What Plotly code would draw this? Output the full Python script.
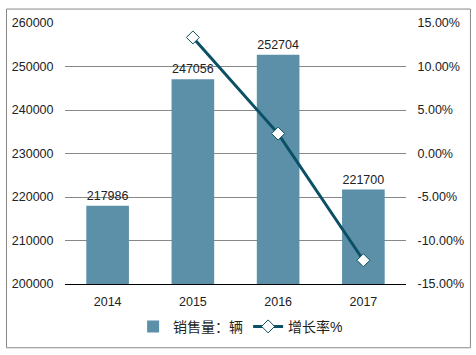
import plotly.graph_objects as go

years = ["2014", "2015", "2016", "2017"]
sales = [217986, 247056, 252704, 221700]
growth = [None, 13.34, 2.29, -12.27]
left_ticks = [200000, 210000, 220000, 230000, 240000, 250000, 260000]
right_ticks = [-15, -10, -5, 0, 5, 10, 15]
right_labels = ["-15.00%", "-10.00%", "-5.00%", "0.00%", "5.00%", "10.00%", "15.00%"]

FONT = "Liberation Sans, Arial, Noto Sans CJK SC, sans-serif"

fig = go.Figure()
fig.add_trace(go.Bar(
    x=years, y=sales, name="销售量：辆",
    marker=dict(color="#5B90A8", line=dict(width=0)),
    width=0.5,
    text=[str(v) for v in sales], textposition="outside",
    textfont=dict(size=12.5, color="#222", family=FONT),
    cliponaxis=False,
))
fig.add_trace(go.Scatter(
    x=years, y=growth, name="增长率%", yaxis="y2",
    mode="lines+markers",
    line=dict(color="#0B5064", width=3),
    marker=dict(symbol="diamond", size=10, color="white",
                line=dict(color="#0B5064", width=1)),
    cliponaxis=False,
))

fig.update_layout(
    width=476, height=355,
    margin=dict(l=62, r=70, t=23, b=70),
    paper_bgcolor="white", plot_bgcolor="white",
    font=dict(family=FONT, size=12, color="#222"),
    showlegend=True,
    legend=dict(orientation="h", x=0.515, y=-0.164, xanchor="center", yanchor="middle",
                font=dict(size=14, family=FONT, color="#222"), itemwidth=30,
                traceorder="normal"),
    xaxis=dict(showgrid=False, showline=True, linecolor="#000", linewidth=1,
               ticks="outside", ticklen=6, tickcolor="rgba(0,0,0,0)",
               tickfont=dict(size=12.5)),
    yaxis=dict(range=[200000, 260000], tickvals=left_ticks,
               ticktext=[str(v) for v in left_ticks],
               showgrid=True, gridcolor="#888", gridwidth=1,
               zeroline=False, showline=False,
               ticks="outside", ticklen=8, tickcolor="rgba(0,0,0,0)",
               tickfont=dict(size=12.5)),
    yaxis2=dict(range=[-15, 15], tickvals=right_ticks, ticktext=right_labels,
                overlaying="y", side="right", showgrid=False, zeroline=False,
                showline=False, ticks="outside", ticklen=8,
                tickcolor="rgba(0,0,0,0)", tickfont=dict(size=12.5)),
    shapes=[dict(type="rect", xref="paper", yref="paper",
                 x0=(3 - 62) / 344, x1=(471 - 62) / 344,
                 y0=(285 - 349) / 262, y1=(285 - 9) / 262,
                 line=dict(color="#888", width=1), layer="below")],
)

fig.write_html("out.html")
